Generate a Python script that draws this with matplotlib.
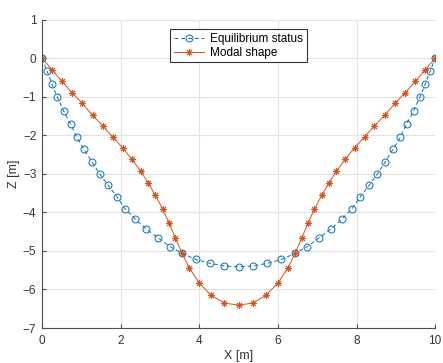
import numpy as np
import matplotlib.pyplot as plt

plt.rcParams['font.family'] = ['Liberation Sans', 'DejaVu Sans']

# ---------------------------
# data
# ---------------------------
eq_x = [0, 0.125, 0.25, 0.39, 0.55, 0.725, 0.885, 1.07, 1.27, 1.47, 1.685,
        1.905, 2.11, 2.37, 2.65, 2.95, 3.26, 3.56, 3.91, 4.27, 4.63, 5.0,
        5.37, 5.73, 6.09, 6.44, 6.74, 7.05, 7.35, 7.63, 7.89, 8.095, 8.315,
        8.53, 8.73, 8.93, 9.115, 9.275, 9.45, 9.61, 9.75, 9.875, 10]
eq_z = [0, -0.32, -0.66, -1.01, -1.37, -1.70, -2.05, -2.36, -2.69, -3.00,
        -3.30, -3.59, -3.90, -4.17, -4.43, -4.66, -4.89, -5.06, -5.22, -5.32,
        -5.39, -5.41, -5.39, -5.32, -5.22, -5.06, -4.89, -4.66, -4.43, -4.17,
        -3.90, -3.59, -3.30, -3.00, -2.69, -2.36, -2.05, -1.70, -1.37, -1.01,
        -0.66, -0.32, 0]

mode_x = [0, 0.26, 0.51, 0.77, 1.025, 1.285, 1.545, 1.795, 2.05, 2.285, 2.51,
          2.70, 2.88, 3.07, 3.23, 3.39, 3.56, 3.75, 4.00, 4.30, 4.64, 5.0,
          5.36, 5.70, 6.00, 6.25, 6.44, 6.61, 6.77, 6.93, 7.12, 7.30, 7.49,
          7.715, 7.95, 8.205, 8.455, 8.715, 8.975, 9.23, 9.49, 9.74, 10]
mode_z = [0, -0.30, -0.60, -0.90, -1.17, -1.48, -1.75, -2.04, -2.32, -2.62,
          -2.93, -3.23, -3.55, -3.91, -4.27, -4.66, -5.05, -5.45, -5.83, -6.15,
          -6.35, -6.41, -6.35, -6.15, -5.83, -5.45, -5.05, -4.66, -4.27, -3.91,
          -3.55, -3.23, -2.93, -2.62, -2.32, -2.04, -1.75, -1.48, -1.17, -0.90,
          -0.60, -0.30, 0]

x_ticks = [0, 2, 4, 6, 8, 10]
z_ticks = [-7, -6, -5, -4, -3, -2, -1, 0, 1]

# ---------------------------
# plot
# ---------------------------
fig = plt.figure(figsize=(4.43, 3.63), dpi=100)
ax = fig.add_axes([0.0948, 0.0964, 0.8875, 0.849])

ax.plot(eq_x, eq_z, color='#0072BD', linestyle=(0, (4, 3)), linewidth=0.7,
        marker='o', markersize=5, markerfacecolor='none',
        markeredgewidth=0.7, label='Equilibrium status')
ax.plot(mode_x, mode_z, color='#D95319', linestyle='-', linewidth=0.7,
        marker=(8, 2, 0), markersize=5, markeredgewidth=0.7,
        label='Modal shape')

ax.set_xlim(0, 10)
ax.set_ylim(-7, 1)
ax.set_xticks(x_ticks)
ax.set_yticks(z_ticks)
ax.grid(True, color='#e3e3e3', linewidth=0.8)
ax.set_axisbelow(True)

for side in ['top', 'right']:
    ax.spines[side].set_visible(False)
for side in ['left', 'bottom']:
    ax.spines[side].set_color('#4d4d4d')
    ax.spines[side].set_linewidth(0.8)

ax.tick_params(direction='in', length=3, width=0.8, color='#4d4d4d',
               labelsize=8.5, labelcolor='#333333')
ax.tick_params(axis='x', pad=5)
ax.tick_params(axis='y', pad=4)

ax.set_xlabel('X [m]', fontsize=9, color='#333333', labelpad=2)
ax.set_ylabel('Z [m]', fontsize=9, color='#333333', labelpad=2)

leg = ax.legend(loc='upper center', bbox_to_anchor=(0.5, 0.969),
                fontsize=8.5, fancybox=False, framealpha=1,
                edgecolor='#333333', handlelength=2.6, borderpad=0.3,
                labelspacing=0.15, handletextpad=0.5, borderaxespad=0)
leg.get_frame().set_linewidth(0.8)

fig.savefig('out.png', dpi=100)
